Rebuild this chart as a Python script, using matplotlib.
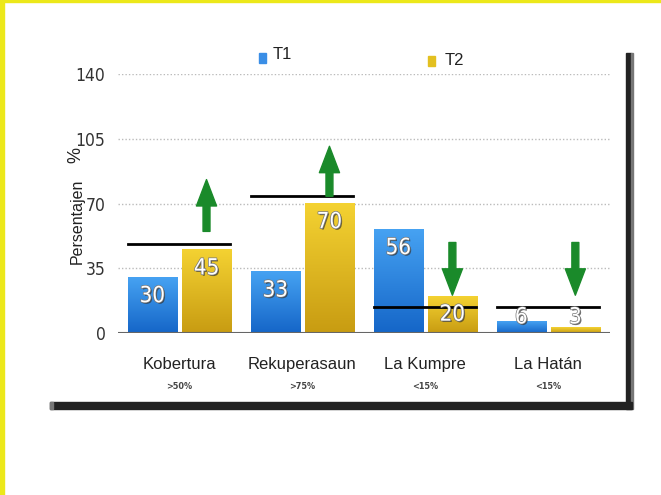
import numpy as np
import matplotlib
matplotlib.use("Agg")
import matplotlib.pyplot as plt
import matplotlib.patheffects as pe
from matplotlib.patches import Rectangle
from matplotlib.colors import LinearSegmentedColormap

categories = ["Kobertura", "Rekuperasaun", "La Kumpre", "La Hatán"]
thresholds = [">50%", ">75%", "<15%", "<15%"]
t1 = [30, 33, 56, 6]
t2 = [45, 70, 20, 3]
targets = [48, 74, 14, 14]
arrow_from = [55, 74, 49, 49]
arrow_to = [83, 101, 20.5, 20.5]
yticks = [0, 35, 70, 105, 140]

plt.rcParams["font.family"] = ["Liberation Sans", "DejaVu Sans"]
narrow = dict(family="DejaVu Sans", fontstretch="condensed")

fig = plt.figure(figsize=(6.61, 4.95), dpi=100)
ax = fig.add_axes([0.1785, 0.327, 0.744, 0.5232])

blue = LinearSegmentedColormap.from_list("b", ["#1566c8", "#46a2f2"])
gold = LinearSegmentedColormap.from_list("g", ["#c89c12", "#f4d232"])
grad = np.linspace(0, 1, 100).reshape(-1, 1)

x = np.arange(len(categories))
w = 0.4
bars1 = ax.bar(x - 0.22, t1, w, color="#3088e0", zorder=2)
bars2 = ax.bar(x + 0.22, t2, w, color="#e0bb22", zorder=2)
for bars, cmap in [(bars1, blue), (bars2, gold)]:
    for b in bars:
        bx, bw, bh = b.get_x(), b.get_width(), b.get_height()
        ax.imshow(grad, cmap=cmap, origin="lower", aspect="auto",
                  extent=[bx, bx + bw, 0, bh], zorder=2.1)

for bars, vals in [(bars1, t1), (bars2, t2)]:
    for b, v in zip(bars, vals):
        ax.text(b.get_x() + b.get_width() / 2, max(v - 10, 8.5), str(v),
                ha="center", va="center", color="white", fontsize=16,
                zorder=5, **narrow,
                path_effects=[pe.SimplePatchShadow(offset=(1, -1), shadow_rgbFace="#333", alpha=0.7),
                              pe.withStroke(linewidth=1, foreground="#777")])

for i, t in enumerate(targets):
    ax.plot([i - 0.42, i + 0.41], [t, t], color="black", lw=2, zorder=4)

for i in range(len(categories)):
    ax.annotate("", xy=(i + 0.22, arrow_to[i]), xytext=(i + 0.22, arrow_from[i]),
                arrowprops=dict(arrowstyle="simple,head_length=1.9,head_width=1.45,tail_width=0.5",
                                color="#1a8a2a", shrinkA=0, shrinkB=0, mutation_scale=10),
                zorder=6)

ax.set_xlim(-0.5, 3.5)
ax.set_ylim(0, 140)
ax.set_yticks(yticks)
ax.set_yticklabels([str(v) for v in yticks], fontsize=12.5, color="#333", **narrow)
ax.tick_params(axis="y", length=0, pad=9)
ax.set_xticks([])
for s in ax.spines.values():
    s.set_visible(False)
for v in yticks[1:]:
    ax.axhline(v, color="#bbbbbb", lw=1, ls=(0, (1, 1.5)), zorder=1)
ax.axhline(0, color="#666666", lw=1.5, zorder=3)

for i, (c, t) in enumerate(zip(categories, thresholds)):
    ax.text(i, -17, c, ha="center", va="center", fontsize=12, color="#222")
    ax.text(i, -29, t, ha="center", va="center", fontsize=6.5, color="#444",
            fontweight="bold", **narrow)

fig.text(0.1165, 0.552, "Persentajen", rotation=90, ha="center", va="center",
         fontsize=11.5, color="#222")
fig.text(0.115, 0.687, "%", rotation=90, ha="center", va="center",
         fontsize=13, color="#222")

# legend
fig.add_artist(Rectangle((0.392, 0.873), 0.0106, 0.020, color="#3a8ee6"))
fig.text(0.413, 0.889, "T1", ha="left", va="center", fontsize=12, color="#222")
fig.add_artist(Rectangle((0.648, 0.866), 0.0106, 0.020, color="#e3c020"))
fig.text(0.672, 0.877, "T2", ha="left", va="center", fontsize=12, color="#222")

# frame
fig.add_artist(Rectangle((0.947, 0.174), 0.007, 0.719, color="#222222"))
fig.add_artist(Rectangle((0.954, 0.174), 0.003, 0.719, color="#777777"))
fig.add_artist(Rectangle((0.0756, 0.174), 0.88, 0.014, color="#222222"))
fig.add_artist(Rectangle((0.0756, 0.174), 0.004, 0.014, color="#777777"))

# yellow border
fig.add_artist(Rectangle((0, 0), 0.0055, 1, color="#ece81a"))
fig.add_artist(Rectangle((0, 0.996), 1, 0.004, color="#ece81a"))

fig.savefig("out.png", dpi=100)
